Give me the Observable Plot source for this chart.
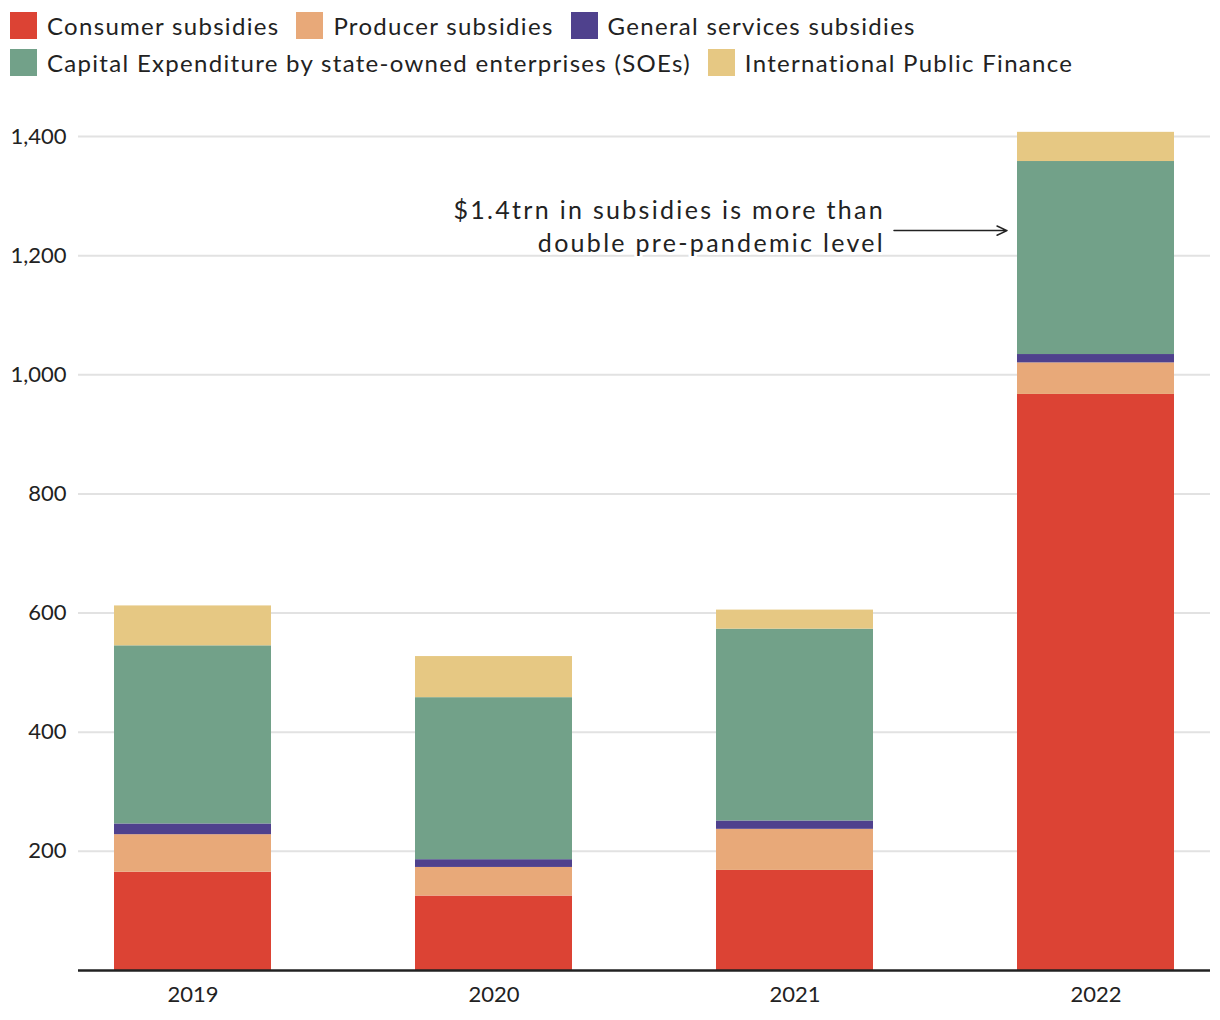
<!DOCTYPE html>
<html>
<head>
<meta charset="utf-8">
<script src="https://cdn.jsdelivr.net/npm/d3@7"></script>
<script src="https://cdn.jsdelivr.net/npm/@observablehq/plot@0.6"></script>
<style>
  html, body { margin: 0; padding: 0; background: #fff; }
  body { width: 1220px; height: 1020px; overflow: hidden; font-family: Lato, "Noto Sans", sans-serif; color: #222; }
  #legend { position: relative; height: 90px; }
  .row { position: absolute; left: 10px; display: flex; align-items: center; font-size: 24px; line-height: 26px; letter-spacing: 1.3px; }
  .item { display: flex; align-items: center; margin-right: 17px; }
  .sw { width: 27px; height: 27px; margin-right: 10px; }
  #chart { position: absolute; left: 0; top: 90px; }
</style>
</head>
<body>
<div id="legend"></div>
<div id="chart"></div>
<script>
const years = ["2019", "2020", "2021", "2022"];
const seriesNames = [
  "Consumer subsidies",
  "Producer subsidies",
  "General services subsidies",
  "Capital Expenditure by state-owned enterprises (SOEs)",
  "International Public Finance"
];
const consumer = [165, 125, 168, 967];
const producer = [63, 48, 69, 53];
const generalServices = [18, 13, 14, 14];
const soeCapex = [299, 272, 322, 324];
const intlFinance = [67, 69, 32, 49];
const colors = ["#DC4334", "#E8A979", "#4F418D", "#72A189", "#E6C883"];
const yTicks = [200, 400, 600, 800, 1000, 1200, 1400];
const annotationText = "$1.4trn in subsidies is more than\ndouble pre-pandemic level";
const annotationValue = 1251;
const arrowValue = 1242;

const seriesValues = [consumer, producer, generalServices, soeCapex, intlFinance];
const data = [];
seriesNames.forEach((s, si) => years.forEach((y, yi) => data.push({year: y, series: s, value: seriesValues[si][yi]})));

// Legend
const legend = document.getElementById("legend");
const rows = [[0, 1, 2], [3, 4]];
rows.forEach((r, ri) => {
  const row = document.createElement("div");
  row.className = "row";
  row.style.top = (ri === 0 ? 12 : 49) + "px";
  r.forEach(i => {
    const it = document.createElement("div");
    it.className = "item";
    it.innerHTML = `<span class="sw" style="background:${colors[i]}"></span><span>${seriesNames[i]}</span>`;
    row.appendChild(it);
  });
  legend.appendChild(row);
});

const chart = Plot.plot({
  width: 1220,
  height: 930,
  marginLeft: 78,
  marginRight: 10,
  marginTop: 46,
  marginBottom: 50,
  style: {fontFamily: "Lato, 'Noto Sans', sans-serif", fontSize: "22px", color: "#222", background: "#fff"},
  x: {domain: years, paddingInner: 0.477, paddingOuter: 0.113, label: null, tickSize: 0, tickPadding: 16},
  y: {domain: [0, 1400], label: null},
  color: {domain: seriesNames, range: colors},
  marks: [
    Plot.gridY(yTicks, {stroke: "#e2e2e2", strokeOpacity: 1, strokeWidth: 2}),
    Plot.axisY(yTicks, {tickSize: 0, tickPadding: 12, tickFormat: d3.format(","), label: null, fontSize: 22}),
    Plot.axisX({tickSize: 0, tickPadding: 16, label: null, fontSize: 22}),
    Plot.barY(data, {x: "year", y: "value", fill: "series", order: seriesNames}),
    Plot.ruleY([0], {stroke: "#222", strokeWidth: 2.5}),
    Plot.text([annotationText], {x: () => "2022", y: () => annotationValue, text: d => d, dx: -211, textAnchor: "end", lineAnchor: "middle", lineHeight: 1.32, fontSize: 25, fill: "#222", stroke: "white", strokeWidth: 6}),
    Plot.arrow([0], {x1: () => "2021", x2: () => "2022", y1: () => arrowValue, y2: () => arrowValue, insetStart: 99, insetEnd: 89, stroke: "#222", strokeWidth: 1.5, headLength: 11, headAngle: 50})
  ]
});
d3.select(chart).selectAll('g[aria-label="text"] text').style("letter-spacing", "2.3px");
document.getElementById("chart").appendChild(chart);
</script>
</body>
</html>
